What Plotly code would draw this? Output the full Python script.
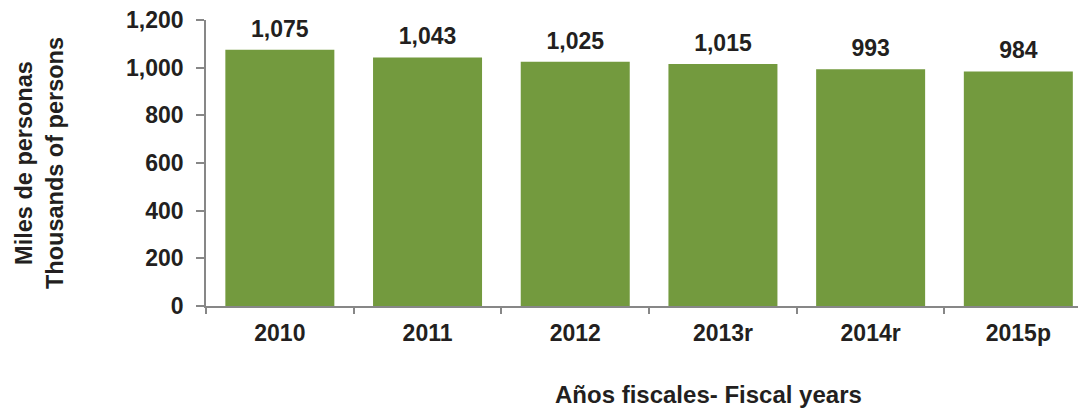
import plotly.graph_objects as go

categories = ["2010", "2011", "2012", "2013r", "2014r", "2015p"]
values = [1075, 1043, 1025, 1015, 993, 984]
value_labels = ["1,075", "1,043", "1,025", "1,015", "993", "984"]
y_ticks = [0, 200, 400, 600, 800, 1000, 1200]
y_tick_labels = ["0", "200", "400", "600", "800", "1,000", "1,200"]

FONT = "Liberation Sans, Arial, sans-serif"
TXT = "#231f20"
AX = "#878787"
FS = 23


def f(size=FS):
    return dict(family=FONT, size=size, color=TXT, weight="bold")


fig = go.Figure()
fig.add_trace(go.Bar(
    x=categories, y=values,
    marker=dict(color="#739a3e", line=dict(width=0)),
    hoverinfo="skip",
))
fig.add_trace(go.Scatter(
    x=categories, y=values, text=value_labels,
    mode="markers+text", textposition="top center",
    marker=dict(size=10, opacity=0),
    textfont=f(), cliponaxis=False, hoverinfo="skip",
))

annotations = [
    dict(text="Años fiscales- Fiscal years", xref="paper", yref="paper",
         x=(708 - 206) / 872, y=(306 - 394) / 286, xanchor="center", yanchor="middle",
         showarrow=False, font=f(24)),
    dict(text="Miles de personas<br>Thousands of persons", xref="paper", yref="paper",
         x=(39 - 206) / 872, y=0.5, xanchor="center", yanchor="middle", textangle=-90,
         showarrow=False, font=f(23.5)),
]

fig.update_layout(
    width=1078, height=409,
    margin=dict(l=206, r=0, t=20, b=103),
    paper_bgcolor="white", plot_bgcolor="white",
    bargap=0.262, showlegend=False,
    font=f(),
    xaxis=dict(
        type="category", range=[-0.5, 5.404],
        showline=True, linecolor=AX, linewidth=1.5,
        ticks="outside", tickson="boundaries", ticklen=6, tickcolor=AX, tickwidth=1.5,
        showgrid=False, zeroline=False,
        tickfont=f(),
        ticklabelstandoff=6,
    ),
    yaxis=dict(
        range=[0, 1200], tickvals=y_ticks, ticktext=y_tick_labels,
        showline=True, linecolor=AX, linewidth=1.5,
        ticks="outside", ticklen=8, tickcolor=AX, tickwidth=1.5,
        showgrid=False, zeroline=False,
        tickfont=f(),
        ticklabelstandoff=8,
    ),
    annotations=annotations,
)

fig.write_html("out.html", config={"displayModeBar": False},
               post_script="document.body.style.margin='0';document.body.style.overflow='hidden';")
